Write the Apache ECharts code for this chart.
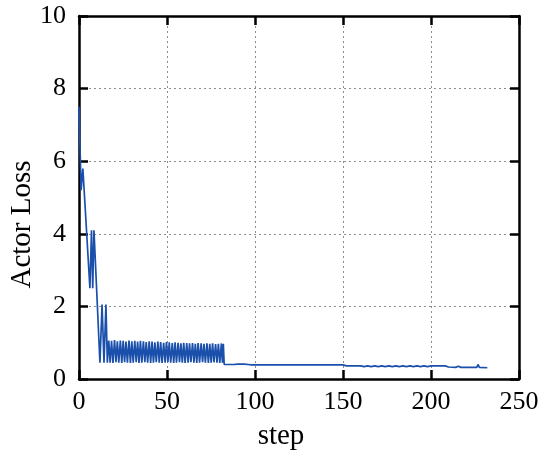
<!DOCTYPE html>
<html>
<head>
<meta charset="utf-8">
<script src="https://cdn.jsdelivr.net/npm/echarts@6/dist/echarts.min.js"></script>
<style>
  html, body { margin: 0; padding: 0; background: #fff; }
  #chart { width: 550px; height: 456px; }
</style>
</head>
<body>
<div id="chart"></div>
<script>
// actor loss per training step
const headSteps = [0, 1.2, 2.2, 6.2, 7.1, 7.8, 8.5, 11.9, 13.1, 14.2, 15.3, 16.1]
const headLoss  = [7.5, 5.2, 5.8, 2.5, 4.1, 2.5, 4.1, 0.45, 2.05, 0.45, 2.05, 0.45]

// oscillating band, peak / trough pairs
const bandSteps = [
  16.9, 17.7, 18.5, 19.3, 20.2, 21.0, 21.8, 22.6, 23.5, 24.3,
  25.1, 25.9, 26.7, 27.5, 28.4, 29.2, 30.0, 30.8, 31.7, 32.5,
  33.3, 34.1, 34.9, 35.7, 36.6, 37.4, 38.2, 39.0, 39.9, 40.7,
  41.5, 42.3, 43.1, 43.9, 44.8, 45.6, 46.4, 47.2, 48.1, 48.9,
  49.7, 50.5, 51.3, 52.1, 53.0, 53.8, 54.6, 55.4, 56.3, 57.1,
  57.9, 58.7, 59.5, 60.3, 61.2, 62.0, 62.8, 63.6, 64.5, 65.3,
  66.1, 66.9, 67.7, 68.5, 69.4, 70.2, 71.0, 71.8, 72.7, 73.5,
  74.3, 75.1, 75.9, 76.7, 77.6, 78.4, 79.2, 80.0, 80.9, 81.5,
  82.0
]
const bandLoss = [
  1.06, 0.45, 1.05, 0.44, 1.07, 0.46, 1.04, 0.45, 1.06, 0.44,
  1.05, 0.46, 1.03, 0.45, 1.06, 0.44, 1.04, 0.45, 1.05, 0.46,
  1.03, 0.44, 1.05, 0.45, 1.04, 0.46, 1.02, 0.45, 1.04, 0.44,
  1.03, 0.45, 1.01, 0.46, 1.03, 0.45, 1.02, 0.44, 1.00, 0.45,
  1.02, 0.46, 1.01, 0.45, 0.99, 0.44, 1.01, 0.45, 1.00, 0.46,
  0.98, 0.45, 1.00, 0.44, 0.99, 0.45, 0.98, 0.46, 0.99, 0.45,
  0.97, 0.44, 0.99, 0.45, 0.98, 0.46, 0.97, 0.45, 0.98, 0.44,
  0.97, 0.45, 0.98, 0.46, 0.96, 0.45, 0.97, 0.44, 0.98, 0.45,
  0.97
]

const tailSteps = [
  82.5, 88, 89, 90, 91, 92, 93, 94, 95, 96, 98, 150, 152, 160,
  162, 164, 166, 168, 170, 172, 174, 176, 178, 180, 182, 184, 186, 188, 190, 192, 194, 196, 198, 200,
  208, 210, 214, 215.5, 217, 222, 223, 224, 226, 226.7, 227.5, 232
]
const tailLoss = [
  0.40, 0.40, 0.38, 0.41, 0.38, 0.41, 0.38, 0.41, 0.38, 0.40, 0.39, 0.39, 0.36, 0.36,
  0.34, 0.36, 0.34, 0.36, 0.34, 0.36, 0.34, 0.36, 0.34, 0.36, 0.34, 0.36, 0.34, 0.36, 0.34, 0.36, 0.34, 0.36, 0.34, 0.36,
  0.36, 0.33, 0.32, 0.35, 0.32, 0.32, 0.34, 0.32, 0.32, 0.40, 0.32, 0.31
]

const xTicks = [0, 50, 100, 150, 200, 250]
const yTicks = [0, 2, 4, 6, 8, 10]

const steps = headSteps.concat(bandSteps, tailSteps)
const loss = headLoss.concat(bandLoss, tailLoss)
const points = steps.map((s, i) => [s, loss[i]])

const font = 'Liberation Serif'
// fresh objects per axis, ticks drawn into the plot
function axisLine(){ return { show: true, onZero: false, lineStyle: { color: '#000', width: 2.5 } } }
function tick(){ return { show: true, inside: true, length: 9, lineStyle: { color: '#000', width: 2.5 } } }
function grid(){ return { show: true, lineStyle: { color: '#8c8c8c', type: [2, 3], width: 1 } } }

const ec = echarts.init(document.getElementById('chart'))
ec.setOption({
  animation: false,
  grid: { left: 79, right: 31, top: 16, bottom: 77, containLabel: false, outerBoundsMode: 'none' },
  xAxis: [{
    type: 'value', min: xTicks[0], max: xTicks[xTicks.length - 1], interval: 50,
    name: 'step', nameLocation: 'middle', nameGap: 43, nameMoveOverlap: false,
    // the axis titles sit a little off the plot centre, as in the figure
    nameTextStyle: { fontFamily: font, fontSize: 29, color: '#000', padding: [0, 36, 0, 0] },
    axisLine: axisLine(), axisTick: tick(), splitLine: grid(),
    axisLabel: { fontFamily: font, fontSize: 26, color: '#000', margin: 10 }
  }, {
    type: 'value', position: 'top', min: xTicks[0], max: xTicks[xTicks.length - 1], interval: 50,
    axisLine: axisLine(), axisTick: tick(), splitLine: { show: false }, axisLabel: { show: false }
  }],
  yAxis: [{
    type: 'value', min: yTicks[0], max: yTicks[yTicks.length - 1], interval: 2,
    name: 'Actor Loss', nameLocation: 'middle', nameGap: 42, nameMoveOverlap: false,
    nameTextStyle: { fontFamily: font, fontSize: 29, color: '#000', padding: [0, 54, 0, 0] },
    axisLine: axisLine(), axisTick: tick(), splitLine: grid(),
    axisLabel: { fontFamily: font, fontSize: 26, color: '#000', margin: 13 }
  }, {
    type: 'value', position: 'right', min: yTicks[0], max: yTicks[yTicks.length - 1], interval: 2,
    axisLine: axisLine(), axisTick: tick(), splitLine: { show: false }, axisLabel: { show: false }
  }],
  series: [{
    type: 'line',
    data: points,
    showSymbol: false,
    lineStyle: { color: '#1a4fab', width: 1.7 },
    z: 1
  }]
})
</script>
</body>
</html>
